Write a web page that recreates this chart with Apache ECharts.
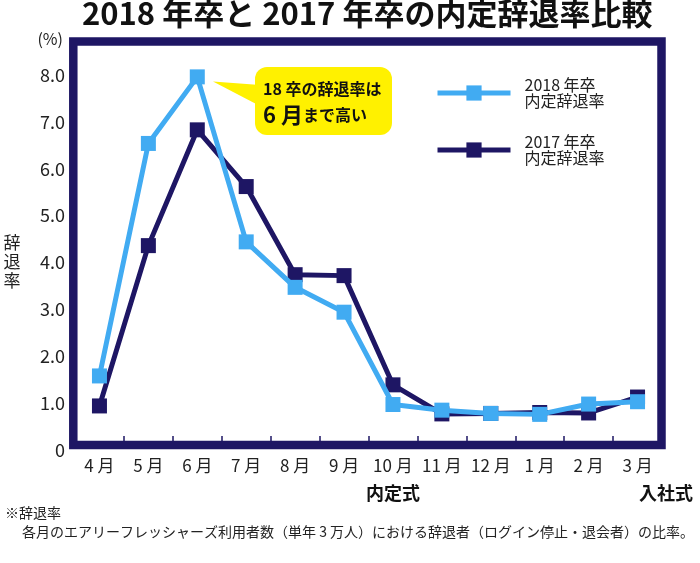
<!DOCTYPE html>
<html>
<head>
<meta charset="utf-8">
<script src="https://cdn.jsdelivr.net/npm/echarts@6/dist/echarts.min.js"></script>
<style>
  html, body { margin: 0; padding: 0; background: #fff; }
  #chart { width: 700px; height: 563px; }
</style>
</head>
<body>
<div id="chart"></div>
<script>
const months = ['4 月','5 月','6 月','7 月','8 月','9 月','10 月','11 月','12 月','1 月','2 月','3 月'];
const rate2018 = [1.58, 6.54, 7.96, 4.44, 3.47, 2.94, 0.97, 0.85, 0.78, 0.76, 0.98, 1.03];
const rate2017 = [0.94, 4.36, 6.83, 5.62, 3.74, 3.72, 1.39, 0.77, 0.78, 0.80, 0.79, 1.13];
const yTicks = { min: 0, max: 8, interval: 1 };

const NAVY = '#1e1664';
const BLUE = '#41abf2';
const YELLOW = '#fff100';
const FONT = '"Noto Sans CJK JP", "Noto Sans", sans-serif';

const chart = echarts.init(document.getElementById('chart'), null, { renderer: 'canvas' });

chart.setOption({
  animation: false,
  backgroundColor: '#fff',
  textStyle: { fontFamily: FONT },
  title: {
    text: '2018 年卒と 2017 年卒の内定辞退率比較',
    left: 82,
    top: -2,
    padding: 0,
    textStyle: { fontSize: 31, fontWeight: 'bold', color: '#111', fontFamily: FONT }
  },
  grid: { left: 75, right: 38, top: 75, bottom: 113, containLabel: false },
  legend: {
    data: ['2018 年卒\n内定辞退率', '2017 年卒\n内定辞退率'],
    orient: 'vertical',
    left: 435,
    top: 77,
    padding: 0,
    itemWidth: 73,
    itemHeight: 19,
    itemGap: 25,
    lineStyle: { width: 'inherit' },
    textStyle: { fontSize: 16, lineHeight: 16, color: '#222', fontFamily: FONT, padding: [0, 0, 0, 9] }
  },
  xAxis: {
    type: 'category',
    data: months,
    boundaryGap: true,
    offset: -9,
    axisLine: { show: false },
    axisTick: { show: true, inside: true, interval: 0, length: 5, lineStyle: { color: NAVY, width: 1.5 } },
    axisLabel: { interval: 0, fontSize: 17, color: '#222', margin: 16, fontFamily: FONT },
    splitLine: { show: false }
  },
  yAxis: {
    type: 'value',
    min: yTicks.min,
    max: yTicks.max,
    interval: yTicks.interval,
    name: '(%)',
    nameLocation: 'end',
    nameGap: 28,
    nameTextStyle: { fontSize: 16, color: '#222', align: 'right', padding: [0, 12, 0, 0], fontFamily: FONT },
    axisLine: { show: false },
    axisTick: { show: false },
    splitLine: { show: false },
    axisLabel: {
      fontSize: 18, color: '#222', margin: 10, fontFamily: FONT,
      formatter: v => v === 0 ? '0' : v.toFixed(1)
    }
  },
  series: [
    {
      name: '2017 年卒\n内定辞退率',
      type: 'line',
      data: rate2017,
      symbol: 'rect',
      symbolSize: 15,
      lineStyle: { color: NAVY, width: 5 },
      itemStyle: { color: NAVY },
      z: 2
    },
    {
      name: '2018 年卒\n内定辞退率',
      type: 'line',
      data: rate2018,
      symbol: 'rect',
      symbolSize: 15,
      lineStyle: { color: BLUE, width: 5 },
      itemStyle: { color: BLUE },
      z: 3
    }
  ],
  graphic: [
    {
      type: 'rect',
      z: 10,
      shape: { x: 73.3, y: 41.5, width: 588.2, height: 403.5 },
      style: { fill: 'none', stroke: NAVY, lineWidth: 8.5 },
      silent: true
    },
    {
      type: 'polygon',
      z: 20,
      shape: { points: [[213, 81.5], [260, 85], [260, 106]] },
      style: { fill: YELLOW }
    },
    {
      type: 'rect',
      z: 20,
      shape: { x: 255, y: 67, width: 137, height: 68, r: 12 },
      style: { fill: YELLOW }
    },
    {
      type: 'text',
      z: 21,
      x: 263,
      y: 77,
      style: {
        text: '{a|18 卒の辞退率は}\n{b|6 月}{c|まで高い}',
        verticalAlign: 'top',
        align: 'left',
        fill: '#111',
        rich: {
          a: { fontSize: 16, fontWeight: 'bold', lineHeight: 24, fill: '#111', fontFamily: FONT },
          b: { fontSize: 22, fontWeight: 'bold', lineHeight: 28, fill: '#111', fontFamily: FONT },
          c: { fontSize: 16, fontWeight: 'bold', lineHeight: 28, fill: '#111', fontFamily: FONT }
        }
      }
    },
    {
      type: 'text',
      x: 12, y: 262,
      style: {
        text: '辞\n退\n率', fontSize: 17, lineHeight: 19, fill: '#222',
        align: 'center', verticalAlign: 'middle', fontFamily: FONT
      }
    },
    {
      type: 'text',
      x: 393, y: 493,
      style: { text: '内定式', fontSize: 18, fontWeight: 'bold', fill: '#111', align: 'center', verticalAlign: 'middle', fontFamily: FONT }
    },
    {
      type: 'text',
      x: 693, y: 493,
      style: { text: '入社式', fontSize: 18, fontWeight: 'bold', fill: '#111', align: 'right', verticalAlign: 'middle', fontFamily: FONT }
    },
    {
      type: 'text',
      x: 5, y: 513,
      style: { text: '※辞退率', fontSize: 14, fill: '#222', align: 'left', verticalAlign: 'middle', fontFamily: FONT }
    },
    {
      type: 'text',
      x: 22, y: 532,
      style: { text: '各月のエアリーフレッシャーズ利用者数（単年 3 万人）における辞退者（ログイン停止・退会者）の比率。', fontSize: 14, fill: '#222', align: 'left', verticalAlign: 'middle', fontFamily: FONT }
    }
  ]
});
</script>
</body>
</html>
